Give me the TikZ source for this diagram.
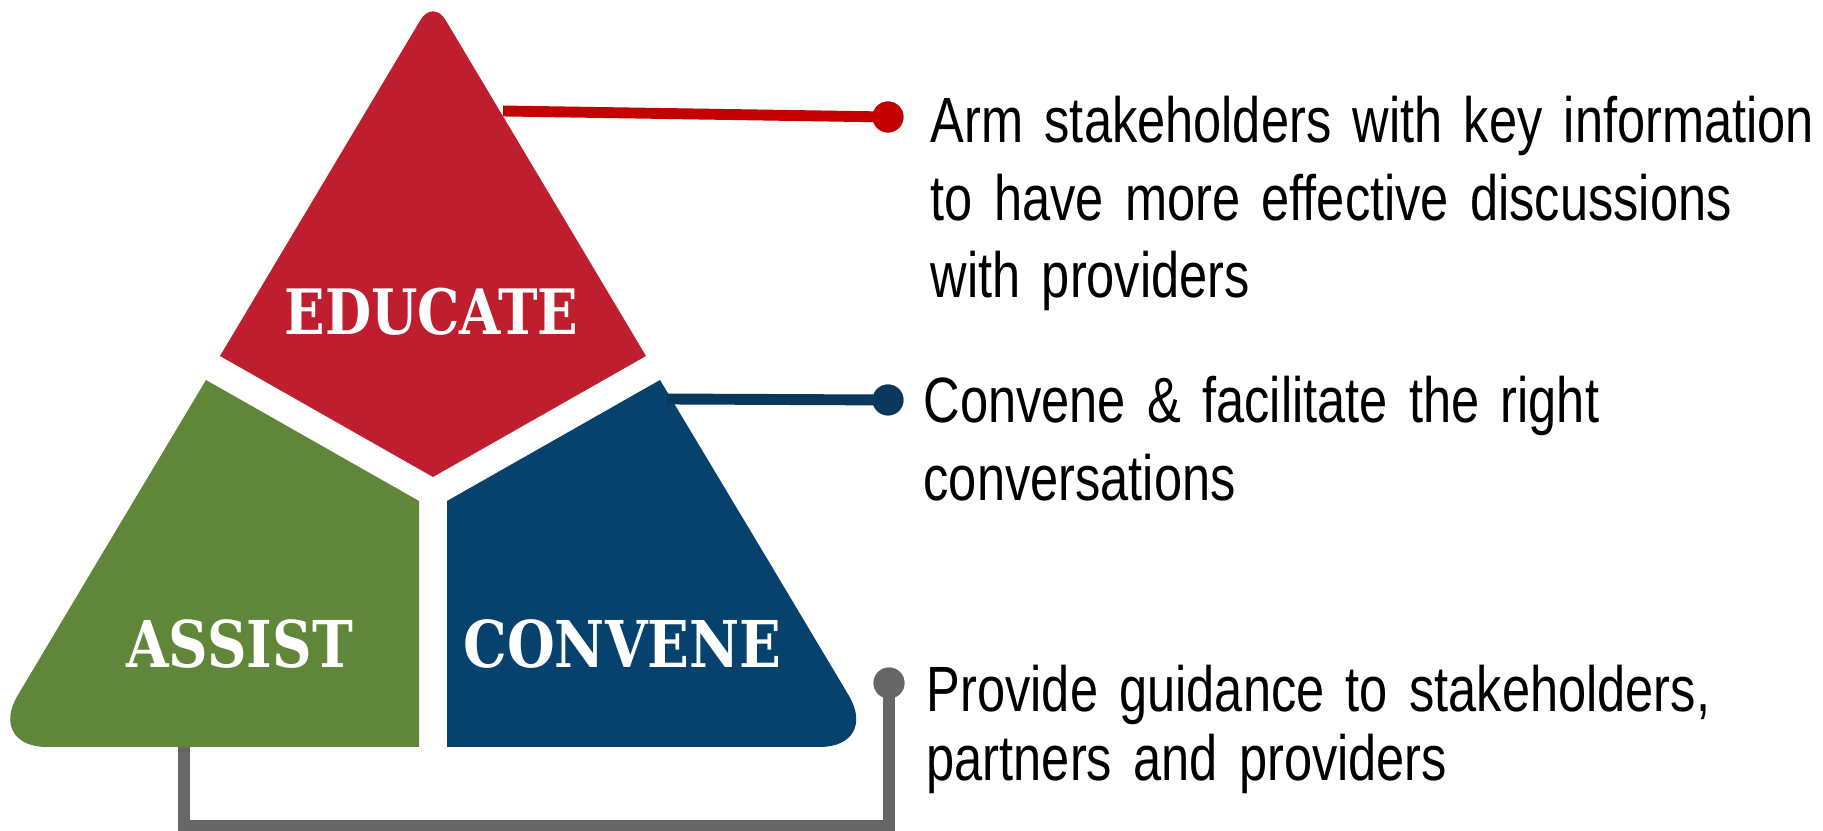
\documentclass[tikz,border=0pt]{standalone}
\usepackage{fontspec}
\newfontfamily\bodyfont[FakeStretch=0.79]{Liberation Sans}
\newfontfamily\labelfont[FakeStretch=0.85]{DejaVu Serif}
\definecolor{edured}{HTML}{BE1E2D}
\definecolor{linered}{HTML}{C20000}
\definecolor{asgreen}{HTML}{5F8639}
\definecolor{cvblue}{HTML}{07426E}
\definecolor{lineblue}{HTML}{0A385C}
\definecolor{linegray}{HTML}{666666}
\begin{document}
\begin{tikzpicture}[x=0.01cm,y=-0.01cm,
  bodytext/.style={anchor=base west, inner sep=0pt, text width=9.2cm, align=left,
    font=\bodyfont\fontsize{18.2}{21.9}\selectfont},
  seglabel/.style={text=white, inner sep=0pt, anchor=base,
    font=\labelfont\bfseries\fontsize{#1}{20}\selectfont},
  condot/.style={circle, fill=#1, minimum size=8.8pt, inner sep=0pt},
  conn/.style={draw=#1, line width=3.1pt}]
\useasboundingbox (0,0) rectangle (1823,831);

% segments of the triangle
\fill[edured] (433,477) -- (220,356) -- (326.5,177.5) [rounded corners=7pt] -- (433,-1) -- (539.5,177.5) [sharp corners] -- (646,356) -- cycle;
\fill[asgreen] (206,380) -- (419,501) -- (419,747) -- (200,747) [rounded corners=17pt] -- (-13,747) -- (96,564) [sharp corners] -- cycle;
\fill[cvblue] (447,501) -- (660,380) -- (770,563.5) [rounded corners=17pt] -- (879.5,747) -- (660,747) [sharp corners] -- (447,747) -- cycle;

% labels
\node[seglabel=17.8] (edu) at (431.5,335) {EDUCATE};
\node[seglabel=18.35] (asst) at (239.5,668) {ASSIST};
\node[seglabel=18.35] (conv) at (622.5,668) {CONVENE};

% connector end points
\coordinate (redstart) at (503,111);
\coordinate (bluestart) at (667,399);
\coordinate (graystart) at (184,747);
\coordinate (graycorner1) at (184,826);
\coordinate (graycorner2) at (889,826);

\node[condot=linered] (reddot) at (888,117) {};
\node[condot=lineblue] (bluedot) at (888,400) {};
\node[condot=linegray] (graydot) at (889,683) {};

\draw[conn=linered] (redstart) -- (reddot.center);
\draw[conn=lineblue] (bluestart) -- (bluedot.center);
\draw[conn=linegray, line width=3.3pt] (graystart) -- (graycorner1) -- (graycorner2) -- (graydot.center);

\node[condot=linered] at (reddot) {};
\node[condot=lineblue] at (bluedot) {};
\node[condot=linegray] at (graydot) {};

% texts
\node[bodytext] (t1) at (930,143) {Arm stakeholders with key information\\to have more effective discussions\\with providers};
\node[bodytext] (t2) at (923,423) {Convene \& facilitate the right\\conversations};
\node[bodytext, font=\bodyfont\fontsize{18.2}{19.6}\selectfont] (t3) at (926,712) {Provide guidance to stakeholders,\\partners and providers};
\end{tikzpicture}
\end{document}
